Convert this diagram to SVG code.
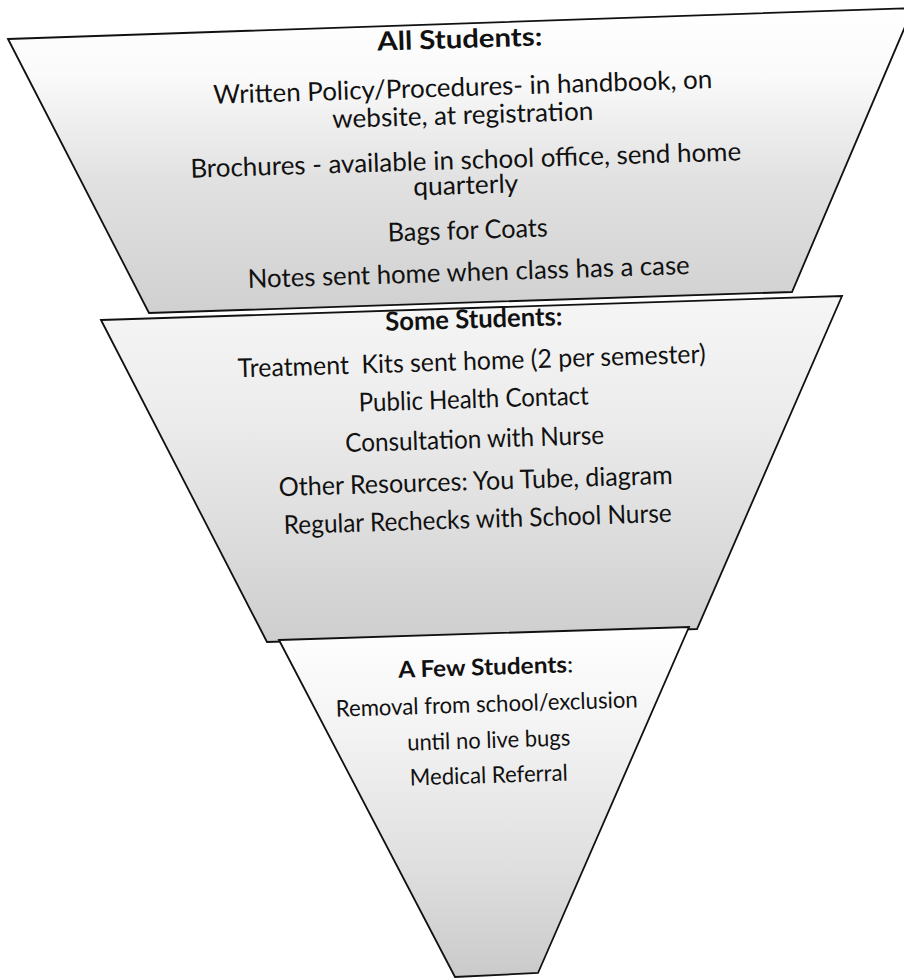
<svg xmlns="http://www.w3.org/2000/svg" width="904" height="978" viewBox="0 0 904 978">
  <defs>
    <linearGradient id="shadeTop" gradientUnits="userSpaceOnUse" x1="0" y1="8" x2="0" y2="313">
      <stop offset="0" stop-color="#ffffff"/>
      <stop offset="0.22" stop-color="#fafafa"/>
      <stop offset="0.55" stop-color="#e2e2e2"/>
      <stop offset="1" stop-color="#d0d0d0"/>
    </linearGradient>
    <linearGradient id="shadeMid" gradientUnits="userSpaceOnUse" x1="0" y1="296" x2="0" y2="642">
      <stop offset="0" stop-color="#f6f6f6"/>
      <stop offset="0.35" stop-color="#ececec"/>
      <stop offset="0.7" stop-color="#dcdcdc"/>
      <stop offset="1" stop-color="#cecece"/>
    </linearGradient>
    <linearGradient id="shadeLow" gradientUnits="userSpaceOnUse" x1="0" y1="627" x2="0" y2="977">
      <stop offset="0" stop-color="#ffffff"/>
      <stop offset="0.3" stop-color="#f3f3f3"/>
      <stop offset="0.7" stop-color="#dedede"/>
      <stop offset="1" stop-color="#cacaca"/>
    </linearGradient>
  </defs>
  <style>
    .tier { stroke: #111; stroke-width: 1.8; stroke-linejoin: miter; }
    .t { font-family: Lato, "Liberation Sans", sans-serif; font-size: 26px; fill: #111; text-anchor: middle; }
    .h { font-weight: bold; }
    .s { font-size: 23px; }
  </style>

  <rect width="904" height="978" fill="#ffffff"/>

  <!-- Tier 1: all students -->
  <g id="tier-all">
    <polygon class="tier" fill="url(#shadeTop)" points="8,39 913,8 792,292 149,313"/>
    <text class="t h" x="460" y="48" textLength="165" lengthAdjust="spacingAndGlyphs" transform="rotate(-1.8 460 48)">All Students:</text>
    <text class="t" x="463" y="96" textLength="499" lengthAdjust="spacingAndGlyphs" transform="rotate(-1.8 463 96)">Written Policy/Procedures- in handbook, on</text>
    <text class="t" x="463" y="124" textLength="261" lengthAdjust="spacingAndGlyphs" transform="rotate(-1.8 463 124)">website, at registration</text>
    <text class="t" x="466" y="169" textLength="551" lengthAdjust="spacingAndGlyphs" transform="rotate(-1.8 466 169)">Brochures - available in school office, send home</text>
    <text class="t" x="466" y="194" textLength="105" lengthAdjust="spacingAndGlyphs" transform="rotate(-1.8 466 194)">quarterly</text>
    <text class="t" x="468" y="239" textLength="160" lengthAdjust="spacingAndGlyphs" transform="rotate(-1.8 468 239)">Bags for Coats</text>
    <text class="t" x="469" y="281" textLength="442" lengthAdjust="spacingAndGlyphs" transform="rotate(-1.8 469 281)">Notes sent home when class has a case</text>
  </g>

  <!-- Tier 2: some students -->
  <g id="tier-some">
    <polygon class="tier" fill="url(#shadeMid)" points="101,320 842,296 697,629 267,642"/>
    <text class="t h" x="474" y="328" textLength="177" lengthAdjust="spacingAndGlyphs" transform="rotate(-1.8 474 328)">Some Students:</text>
    <text class="t" x="472" y="370" textLength="468" lengthAdjust="spacingAndGlyphs" transform="rotate(-1.8 472 370)" xml:space="preserve">Treatment  Kits sent home (2 per semester)</text>
    <text class="t" x="474" y="408" textLength="230" lengthAdjust="spacingAndGlyphs" transform="rotate(-1.8 474 408)">Public Health Contact</text>
    <text class="t" x="475" y="448" textLength="259" lengthAdjust="spacingAndGlyphs" transform="rotate(-1.8 475 448)">Consultation with Nurse</text>
    <text class="t" x="476" y="490" textLength="394" lengthAdjust="spacingAndGlyphs" transform="rotate(-1.8 476 490)">Other Resources: You Tube, diagram</text>
    <text class="t" x="478" y="528" textLength="388" lengthAdjust="spacingAndGlyphs" transform="rotate(-1.8 478 528)">Regular Rechecks with School Nurse</text>
  </g>

  <!-- Tier 3: a few students -->
  <g id="tier-few">
    <polygon class="tier" fill="url(#shadeLow)" points="279,640 689,627 538,973 455,977"/>
    <text class="t s" x="486" y="675" textLength="175" lengthAdjust="spacingAndGlyphs" transform="rotate(-1.8 486 675)"><tspan class="h">A Few Students</tspan>:</text>
    <text class="t s" x="487" y="712" textLength="302" lengthAdjust="spacingAndGlyphs" transform="rotate(-1.8 487 712)">Removal from school/exclusion</text>
    <text class="t s" x="489" y="748" textLength="163" lengthAdjust="spacingAndGlyphs" transform="rotate(-1.8 489 748)">until no live bugs</text>
    <text class="t s" x="489" y="783" textLength="158" lengthAdjust="spacingAndGlyphs" transform="rotate(-1.8 489 783)">Medical Referral</text>
  </g>
</svg>
